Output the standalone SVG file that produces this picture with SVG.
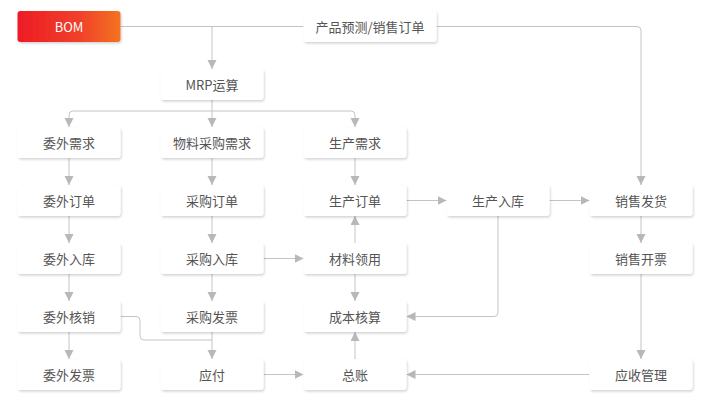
<svg xmlns="http://www.w3.org/2000/svg" width="711" height="405" viewBox="0 0 711 405">
<style>
.n rect{fill:#fff;filter:url(#sh)}
.n text{font-family:"Noto Sans CJK SC","Liberation Sans",sans-serif;font-size:13px;fill:#555;text-anchor:middle;dominant-baseline:central}
#bom rect{fill:url(#g)}
#bom text{fill:#fff}
.c path{fill:none;stroke:#c4c4c4;stroke-width:1}
.c path.a{marker-end:url(#ar)}
</style>
<defs>
<linearGradient id="g" x1="0" y1="0" x2="1" y2="0">
<stop offset="0" stop-color="#ee1c26"/>
<stop offset="0.6" stop-color="#f0402a"/>
<stop offset="1" stop-color="#f37321"/>
</linearGradient>
<filter id="sh" x="-10%" y="-20%" width="120%" height="150%">
<feDropShadow dx="1" dy="1.5" stdDeviation="1" flood-color="#000" flood-opacity="0.18"/>
</filter>
<marker id="ar" markerUnits="userSpaceOnUse" markerWidth="10" markerHeight="10" refX="9" refY="4.5" orient="auto">
<path d="M0,0 L9,4.5 L0,9 z" fill="#b8b8b8"/>
</marker>
</defs>
<rect width="711" height="405" fill="#fff"/>
<g class="c" id="connectors">
<path d="M120.5,26.5 H303.5"/>
<path class="a" d="M212,26.5 V69"/>
<path class="a" d="M436.5,26.5 H637 Q641,26.5 641,30.5 V185"/>
<path class="a" d="M212,100 V127"/>
<path class="a" d="M212,111 H73 Q69,111 69,115 V127"/>
<path class="a" d="M212,111 H351 Q355,111 355,115 V127"/>
<path class="a" d="M69,158 V185"/>
<path class="a" d="M69,216 V243"/>
<path class="a" d="M69,274 V301"/>
<path class="a" d="M69,332 V359"/>
<path class="a" d="M212,158 V185"/>
<path class="a" d="M212,216 V243"/>
<path class="a" d="M212,274 V301"/>
<path class="a" d="M212,332 V359"/>
<path d="M120.5,316.5 H136 Q140,316.5 140,320.5 V336 Q140,340 144,340 H212"/>
<path class="a" d="M355,158 V185"/>
<path class="a" d="M355,243 V216"/>
<path class="a" d="M355,274 V301"/>
<path class="a" d="M355,359 V332"/>
<path class="a" d="M263.5,258.5 H303.5"/>
<path class="a" d="M263.5,374.5 H303.5"/>
<path class="a" d="M406.5,200.5 H446.5"/>
<path class="a" d="M549.5,200.5 H589.5"/>
<path class="a" d="M498,216 V312.5 Q498,316.5 494,316.5 H406.5"/>
<path class="a" d="M641,216 V243"/>
<path class="a" d="M641,274 V359"/>
<path class="a" d="M589.5,374.5 H406.5"/>
</g>
<g class="n" id="bom"><rect x="17.5" y="11" width="103" height="31" rx="3"/><text x="69" y="26.5">BOM</text></g>
<g class="n" id="forecast"><rect x="303.5" y="11" width="133" height="31" rx="3"/><text x="370" y="26.5">产品预测/销售订单</text></g>
<g class="n" id="mrp"><rect x="160.5" y="69" width="103" height="31" rx="3"/><text x="212" y="84.5">MRP运算</text></g>
<g class="n" id="ww_req"><rect x="17.5" y="127" width="103" height="31" rx="3"/><text x="69" y="142.5">委外需求</text></g>
<g class="n" id="cg_req"><rect x="160.5" y="127" width="103" height="31" rx="3"/><text x="212" y="142.5">物料采购需求</text></g>
<g class="n" id="sc_req"><rect x="303.5" y="127" width="103" height="31" rx="3"/><text x="355" y="142.5">生产需求</text></g>
<g class="n" id="ww_order"><rect x="17.5" y="185" width="103" height="31" rx="3"/><text x="69" y="200.5">委外订单</text></g>
<g class="n" id="cg_order"><rect x="160.5" y="185" width="103" height="31" rx="3"/><text x="212" y="200.5">采购订单</text></g>
<g class="n" id="sc_order"><rect x="303.5" y="185" width="103" height="31" rx="3"/><text x="355" y="200.5">生产订单</text></g>
<g class="n" id="sc_in"><rect x="446.5" y="185" width="103" height="31" rx="3"/><text x="498" y="200.5">生产入库</text></g>
<g class="n" id="xs_ship"><rect x="589.5" y="185" width="103" height="31" rx="3"/><text x="641" y="200.5">销售发货</text></g>
<g class="n" id="ww_in"><rect x="17.5" y="243" width="103" height="31" rx="3"/><text x="69" y="258.5">委外入库</text></g>
<g class="n" id="cg_in"><rect x="160.5" y="243" width="103" height="31" rx="3"/><text x="212" y="258.5">采购入库</text></g>
<g class="n" id="cl_ly"><rect x="303.5" y="243" width="103" height="31" rx="3"/><text x="355" y="258.5">材料领用</text></g>
<g class="n" id="xs_inv"><rect x="589.5" y="243" width="103" height="31" rx="3"/><text x="641" y="258.5">销售开票</text></g>
<g class="n" id="ww_hx"><rect x="17.5" y="301" width="103" height="31" rx="3"/><text x="69" y="316.5">委外核销</text></g>
<g class="n" id="cg_inv"><rect x="160.5" y="301" width="103" height="31" rx="3"/><text x="212" y="316.5">采购发票</text></g>
<g class="n" id="cost"><rect x="303.5" y="301" width="103" height="31" rx="3"/><text x="355" y="316.5">成本核算</text></g>
<g class="n" id="ww_inv"><rect x="17.5" y="359" width="103" height="31" rx="3"/><text x="69" y="374.5">委外发票</text></g>
<g class="n" id="ap"><rect x="160.5" y="359" width="103" height="31" rx="3"/><text x="212" y="374.5">应付</text></g>
<g class="n" id="gl"><rect x="303.5" y="359" width="103" height="31" rx="3"/><text x="355" y="374.5">总账</text></g>
<g class="n" id="ar_mgmt"><rect x="589.5" y="359" width="103" height="31" rx="3"/><text x="641" y="374.5">应收管理</text></g>
</svg>
